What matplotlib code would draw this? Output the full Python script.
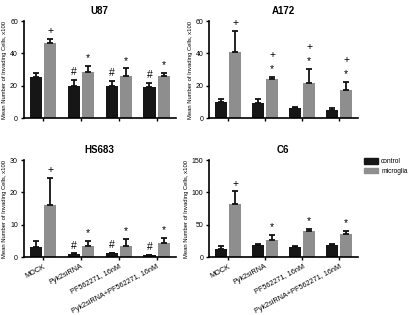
import matplotlib
matplotlib.use("Agg")
import matplotlib.pyplot as plt
import numpy as np
from matplotlib.patches import Patch

plt.rcParams['font.family'] = ['Liberation Sans', 'DejaVu Sans']

# Data
categories = ["MOCK", "Pyk2siRNA", "PF562271, 16nM", "Pyk2siRNA+PF562271, 16nM"]
series = ["control", "microglia"]

u87_control = [25.5, 20.1, 19.9, 19.0]
u87_control_err = [2.2, 3.5, 3.1, 3.0]
u87_microglia = [46.5, 28.7, 26.0, 26.0]
u87_microglia_err = [2.3, 3.5, 4.7, 2.0]
u87_marks_c = ["", "#", "#", "#"]
u87_marks_m = ["+", "*", "*", "*"]

a172_control = [10.2, 9.2, 6.1, 4.9]
a172_control_err = [1.8, 2.5, 0.9, 1.2]
a172_microglia = [41.0, 24.2, 21.9, 17.6]
a172_microglia_err = [13.0, 1.4, 8.4, 4.7]
a172_marks_c = ["", "", "", ""]
a172_marks_m = ["+", "+\n*", "+\n*", "+\n*"]

hs683_control = [3.3, 1.0, 1.2, 0.7]
hs683_control_err = [1.8, 0.2, 0.2, 0.1]
hs683_microglia = [16.1, 3.6, 3.6, 4.3]
hs683_microglia_err = [8.3, 1.5, 2.0, 1.8]
hs683_marks_c = ["", "#", "#", "#"]
hs683_marks_m = ["+", "*", "*", "*"]

c6_control = [12.7, 19.3, 16.3, 19.8]
c6_control_err = [4.1, 1.0, 1.5, 1.0]
c6_microglia = [82.0, 27.0, 40.0, 35.6]
c6_microglia_err = [19.7, 7.0, 4.0, 5.6]
c6_marks_c = ["", "", "", ""]
c6_marks_m = ["+", "*", "*", "*"]

BLACK = "#161616"
GRAY = "#8e8e8e"


def panel(ax, title, ctrl, ctrl_err, micro, micro_err, marks_c, marks_m,
          ymax, yticks, show_labels):
    x = np.arange(len(categories))
    w = 0.32
    ek = dict(ecolor="#111111", elinewidth=1.3, capsize=2.2, capthick=1.3)
    ax.bar(x - 0.19, ctrl, w, color=BLACK,
           yerr=[np.zeros(len(ctrl)), ctrl_err], error_kw=ek)
    ax.bar(x + 0.19, micro, w, color=GRAY,
           yerr=[np.zeros(len(micro)), micro_err], error_kw=ek)

    # significance marks
    for i in range(len(categories)):
        if marks_c[i]:
            ax.annotate(marks_c[i], (x[i] - 0.19, ctrl[i] + ctrl_err[i]),
                        xytext=(0, 2), textcoords="offset points",
                        ha="center", va="bottom", fontsize=7.5,
                        linespacing=1.0)
        if marks_m[i]:
            ax.annotate(marks_m[i], (x[i] + 0.19, micro[i] + micro_err[i]),
                        xytext=(0, 2), textcoords="offset points",
                        ha="center", va="bottom", fontsize=7.5,
                        linespacing=1.5)

    ax.set_xlim(-0.52, 3.5)
    ax.set_ylim(0, ymax)
    ax.set_yticks(yticks)
    ax.set_xticks(x)
    if show_labels:
        ax.set_xticklabels(categories, rotation=28, ha="right",
                           rotation_mode="anchor", fontsize=5.2)
    else:
        ax.set_xticklabels([])
    ax.tick_params(axis="y", labelsize=5, length=2.5, width=1, pad=1.5)
    ax.tick_params(axis="x", length=2.5, width=1, pad=1.5)
    for s in ["top", "right"]:
        ax.spines[s].set_visible(False)
    for s in ["left", "bottom"]:
        ax.spines[s].set_linewidth(1.2)
    ax.set_ylabel("Mean Number of Invading Cells, x100", fontsize=4.2,
                  labelpad=2)
    ax.set_title(title, fontsize=7, fontweight="bold", pad=5)


def main():
    fig = plt.figure(figsize=(4.2, 3.15), dpi=100)
    ax1 = fig.add_axes([0.056, 0.625, 0.362, 0.308])
    ax2 = fig.add_axes([0.497, 0.625, 0.355, 0.308])
    ax3 = fig.add_axes([0.056, 0.183, 0.362, 0.309])
    ax4 = fig.add_axes([0.497, 0.183, 0.355, 0.309])

    panel(ax1, "U87", u87_control, u87_control_err, u87_microglia,
          u87_microglia_err, u87_marks_c, u87_marks_m, 60, [0, 20, 40, 60], False)
    panel(ax2, "A172", a172_control, a172_control_err, a172_microglia,
          a172_microglia_err, a172_marks_c, a172_marks_m, 60, [0, 20, 40, 60], False)
    panel(ax3, "HS683", hs683_control, hs683_control_err, hs683_microglia,
          hs683_microglia_err, hs683_marks_c, hs683_marks_m, 30, [0, 10, 20, 30], True)
    panel(ax4, "C6", c6_control, c6_control_err, c6_microglia,
          c6_microglia_err, c6_marks_c, c6_marks_m, 150, [0, 50, 100, 150], True)

    handles = [Patch(color=BLACK), Patch(color=GRAY)]
    fig.legend(handles, series, loc="upper left", bbox_to_anchor=(0.858, 0.51),
               frameon=False, fontsize=4.8, handlelength=2.0, handleheight=0.9,
               handletextpad=0.5, labelspacing=0.35, borderaxespad=0.2)

    fig.savefig("out.png", dpi=100)


if __name__ == "__main__":
    main()
